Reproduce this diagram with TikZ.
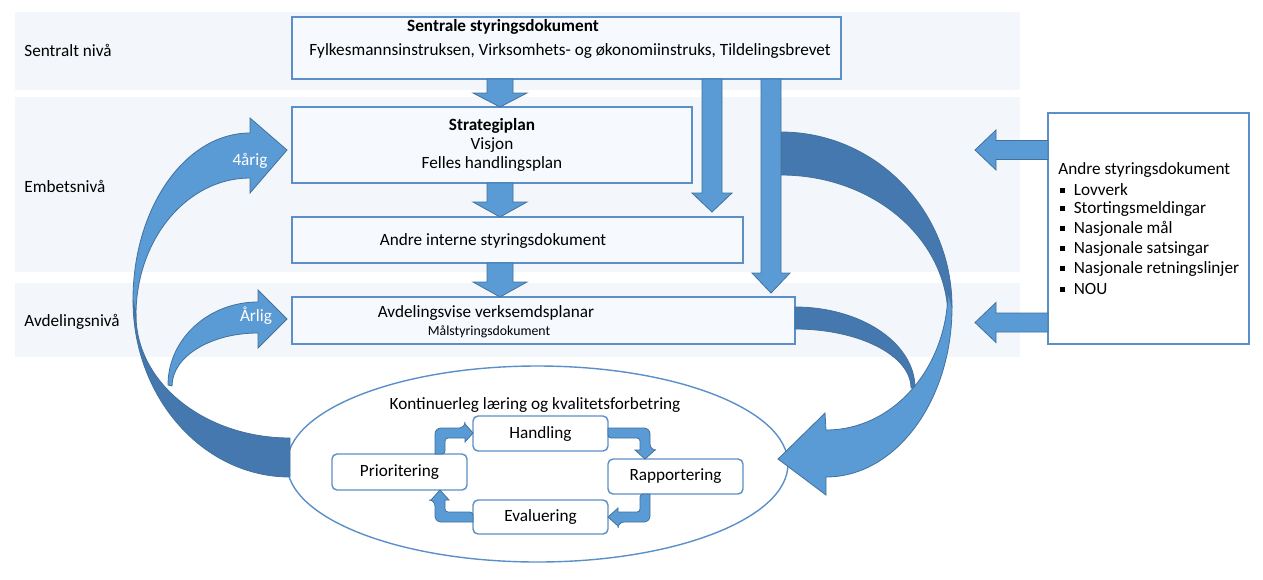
\documentclass[tikz,border=0pt]{standalone}
\usepackage{fontspec}
\setmainfont{Carlito}
\usetikzlibrary{shapes.geometric}
\definecolor{band}{HTML}{F3F6FA}
\definecolor{boxfill}{HTML}{F6F9FD}
\definecolor{boxline}{HTML}{5B8FC9}
\definecolor{arrfill}{HTML}{5B9BD5}
\definecolor{arrdark}{HTML}{4678B0}
\definecolor{arrline}{HTML}{41719C}
\newcommand{\fsz}{\fontsize{8.6}{9.5}\selectfont}
\newcommand{\fszs}{\fontsize{6.9}{8}\selectfont}
\newcommand{\sqbul}{\raisebox{1.3pt}{\rule{2.5pt}{2.5pt}}\hspace{4.2pt}}
\newcommand{\blockdown}[6]{\filldraw[blk] ({#1-#5},#2) -- ({#1-#5},#3) -- ({#1-#6},#3) -- (#1,#4) -- ({#1+#6},#3) -- ({#1+#5},#3) -- ({#1+#5},#2) -- cycle;}
\newcommand{\blockleft}[6]{\filldraw[blk] (#2,{#1-#5}) -- (#3,{#1-#5}) -- (#3,{#1-#6}) -- (#4,#1) -- (#3,{#1+#6}) -- (#3,{#1+#5}) -- (#2,{#1+#5}) -- cycle;}
\tikzset{
 box/.style={draw=boxline, line width=0.8pt, fill=boxfill, inner sep=0pt},
 rbox/.style={draw=boxline, line width=0.7pt, fill=white, rounded corners=2.5pt, inner sep=0pt, minimum width=67.5pt, minimum height=17.5pt, font=\fsz},
 txt/.style={inner sep=0pt, font=\fsz},
 wtxt/.style={inner sep=0pt, font=\fsz, text=white},
 blk/.style={fill=arrfill, draw=arrline, line width=0.4pt},
 blkdark/.style={fill=arrdark, draw=arrline, line width=0.4pt},
 bandfill/.style={fill=band},
}
\begin{document}
\begin{tikzpicture}[x=0.5pt,y=-0.5pt]
\useasboundingbox (0,0) rectangle (1263,579);
% level bands
\fill[bandfill] (15,12) rectangle (1020,90);
\fill[bandfill] (15,97) rectangle (1020,272);
\fill[bandfill] (15,283) rectangle (1020,357);
\node[txt, anchor=west] (lsentral) at (24,50) {Sentralt nivå};
\node[txt, anchor=west] (lembets) at (24,186) {Embetsnivå};
\node[txt, anchor=west] (lavd) at (24,322) {Avdelingsnivå};
% boxes
\node[box, minimum width=274.5pt, minimum height=31pt] (sentral) at (566.5,48) {};
\node[txt, font=\fsz\bfseries] (sentralT) at (503,27) {Sentrale styringsdokument};
\node[txt] (sentralS) at (570,51) {Fylkesmannsinstruksen, Virksomhets- og økonomiinstruks, Tildelingsbrevet};
\node[box, minimum width=200pt, minimum height=38pt, align=center, font=\fsz] (strat) at (492,145) {\textbf{Strategiplan}\\Visjon\\Felles handlingsplan};
\node[box, minimum width=225.5pt, minimum height=23pt] (interne) at (517.5,240) {};
\node[txt] (interneT) at (493,241) {Andre interne styringsdokument};
\node[box, minimum width=251.5pt, minimum height=23.5pt] (avd) at (543.5,320.5) {};
\node[txt] (avdT) at (486,313) {Avdelingsvise verksemdsplanar};
\node[inner sep=0pt, font=\fszs] (avdS) at (489,332) {Målstyringsdokument};
\node[box, fill=white, minimum width=100.5pt, minimum height=115.5pt] (andre) at (1148.5,228.5) {};
\node[txt, anchor=west] (a0) at (1058,170) {Andre styringsdokument};
\node[txt, anchor=west] (a1) at (1060,190) {\sqbul Lovverk};
\node[txt, anchor=west] (a2) at (1060,209.5) {\sqbul Stortingsmeldingar};
\node[txt, anchor=west] (a3) at (1060,229) {\sqbul Nasjonale mål};
\node[txt, anchor=west] (a4) at (1060,249) {\sqbul Nasjonale satsingar};
\node[txt, anchor=west] (a5) at (1060,269) {\sqbul Nasjonale retningslinjer};
\node[txt, anchor=west] (a6) at (1060,289) {\sqbul NOU};
% ellipse
\node[ellipse, draw=boxline, line width=0.7pt, fill=white, minimum width=250.5pt, minimum height=98pt, inner sep=0pt] (kont) at (537.5,464) {};
\node[txt] (kontT) at (535,405) {Kontinuerleg læring og kvalitetsforbetring};
\node[rbox] (handling) at (540.5,433.5) {Handling};
\node[rbox, minimum height=18pt] (prior) at (399.5,472) {Prioritering};
\node[rbox] (rapp) at (675.5,476.5) {Rapportering};
\node[rbox, minimum height=17pt] (eval) at (540.5,517) {Evaluering};
% big curved arrows: left
\filldraw[blkdark] (133,300) .. controls (133,397.8) and (203.3,477) .. (290,477) -- (290,438) .. controls (205,438) and (136,383) .. (136,315) -- cycle;
\filldraw[blk] (287,150) -- (250,118) -- (250,133) .. controls (185.4,133) and (133,207.8) .. (133,300) -- (136,315) .. controls (136,239.3) and (187,178) .. (250,178) -- (250,193) -- cycle;
\filldraw[blk] (287,319) -- (258,290) -- (258,302) .. controls (208.3,302) and (168,339.2) .. (168,385) -- (172,386) .. controls (172,356.7) and (210.5,333) .. (258,333) -- (258,348) -- cycle;
% right
\filldraw[blkdark] (781,132) .. controls (875.4,132) and (952,210.3) .. (952,307) -- (948,318) .. controls (948,239) and (873.2,175) .. (781,175) -- cycle;
\filldraw[blkdark] (795,307) .. controls (861.3,307) and (915,343.3) .. (915,388) -- (911,388) .. controls (911,355.4) and (859,329) .. (795,329) -- cycle;
\filldraw[blk] (952,307) .. controls (952,400.9) and (895.6,477) .. (826,477) -- (826,495) -- (778,459) -- (825,413) -- (826,430) .. controls (893.4,430) and (948,367.3) .. (948,290) -- cycle;
% straight block arrows
\blockdown{500}{79}{93}{107}{13}{27}
\blockdown{500}{183}{202}{217}{13}{27}
\blockdown{500}{263}{282}{297}{13}{27}
\blockdown{712}{79}{193}{212}{10}{20}
\blockdown{771}{79}{273}{293}{10}{19}
\blockleft{150}{1048}{996}{975}{9.5}{20}
\blockleft{322.5}{1048}{996}{975}{9.5}{20}
% small bent arrows
\filldraw[blk] (435,454) [rounded corners=3pt] -- (435,428) -- (465,428) [sharp corners] -- (465,424) -- (473,433) -- (465,442) -- (465,438) [rounded corners=1.5pt] -- (445,438) -- (445,454) [sharp corners] -- cycle;
\filldraw[blk] (608,428) [rounded corners=3pt] -- (650,428) -- (650,450) [sharp corners] -- (655,450) -- (645,459) -- (635,450) -- (640,450) [rounded corners=1.5pt] -- (640,438) -- (608,438) [sharp corners] -- cycle;
\filldraw[blk] (650,494) [rounded corners=3pt] -- (650,522) -- (618,522) [sharp corners] -- (618,526) -- (608,517) -- (618,508) -- (618,512) [rounded corners=1.5pt] -- (640,512) -- (640,494) [sharp corners] -- cycle;
\filldraw[blk] (473,522) [rounded corners=3pt] -- (435,522) -- (435,500) [sharp corners] -- (431,500) -- (440,490) -- (449,500) -- (445,500) [rounded corners=1.5pt] -- (445,512) -- (473,512) [sharp corners] -- cycle;
% labels on curved arrows
\node[wtxt] (fire) at (250,161) {4årig};
\node[wtxt] (aarleg) at (256,316) {Årlig};
\end{tikzpicture}
\end{document}
